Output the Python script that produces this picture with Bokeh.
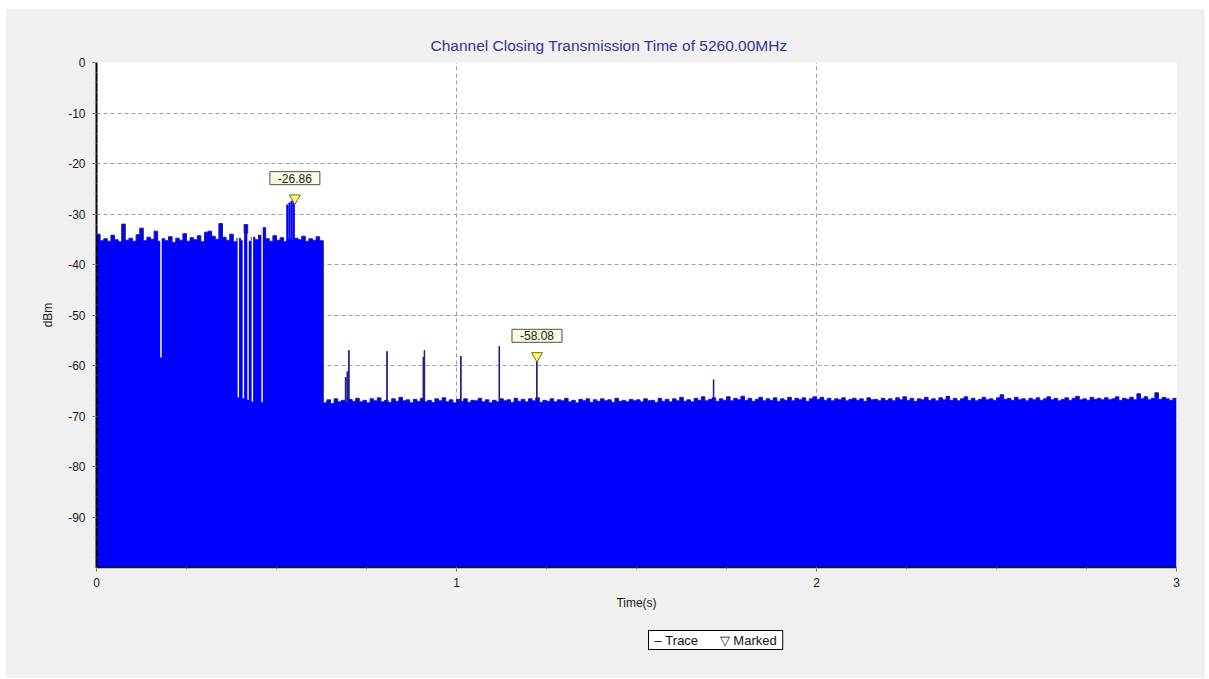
from bokeh.plotting import figure
from bokeh.models import Range1d, FixedTicker, Label, Title
from bokeh.embed import file_html
from bokeh.resources import INLINE

# ---------------- data ----------------
title_text = "Channel Closing Transmission Time of 5260.00MHz"
x_label = "Time(s)"
y_label = "dBm"
x_ticks = [0, 1, 2, 3]
y_ticks = [-90, -80, -70, -60, -50, -40, -30, -20, -10, 0]

bin_width = 0.01  # seconds per trace sample
# channel busy part (0.00 - 0.62 s)
trace_busy = [
    -34.0, -35.3, -34.9, -35.4, -34.2, -35.1, -35.5, -32.0, -35.2, -34.8,
    -35.4, -34.1, -32.8, -35.3, -34.6, -35.0, -33.4, -35.4, -34.9, -35.3,
    -34.5, -35.6, -34.8, -35.2, -33.9, -35.4, -34.7, -35.1, -34.3, -35.5,
    -33.6, -33.4, -34.4, -35.0, -31.9, -34.6, -35.2, -34.0, -35.5, -34.8,
    -35.3, -32.1, -35.4, -34.6, -35.1, -34.2, -32.7, -34.9, -35.4, -34.3,
    -35.2, -34.7, -35.5, -35.0, -35.3, -34.8, -35.1, -34.4, -35.4, -34.9,
    -35.2, -34.5, -35.3,
]
# channel closed part (0.63 - 2.99 s)
trace_idle = [
    -67.4, -66.8, -67.5, -66.6, -67.2, -66.9, -67.3,
    -66.7, -67.1, -66.5, -67.2, -66.9, -67.4, -66.6, -67.0, -66.4, -67.2,
    -66.9, -67.3, -66.6, -67.1, -66.3, -67.0, -66.8, -67.4, -66.7, -67.1,
    -66.5, -67.2, -66.9, -67.3, -66.6, -67.0, -66.4, -67.2, -66.8, -67.4,
    -66.7, -67.1, -66.6, -67.3, -66.9, -67.0, -66.5, -67.2, -66.8, -67.4,
    -66.9, -67.2, -66.6, -67.0, -66.8, -67.3, -66.5, -67.1, -66.7, -67.2,
    -66.6, -67.0, -66.4, -67.3, -66.9, -67.1, -66.6, -67.2, -66.8, -67.0,
    -66.5, -67.2, -66.9, -67.4, -66.7, -67.0, -66.6, -67.3, -66.8, -67.1,
    -66.6, -67.0, -66.8, -67.3, -66.5, -67.1, -66.9, -67.2, -66.7, -67.0,
    -66.8, -67.2, -66.6, -67.0, -66.9, -67.3, -66.5, -67.1, -66.7, -67.2,
    -66.6, -67.0, -66.3, -67.1, -66.8, -67.2, -66.5, -66.9, -66.2, -67.0,
    -66.7, -66.4, -67.1, -66.6, -66.9, -66.2, -67.0, -66.5, -66.8, -66.1,
    -66.9, -66.5, -67.1, -66.7, -66.3, -67.0, -66.6, -66.9, -66.4, -67.1,
    -66.6, -66.9, -66.3, -67.0, -66.5, -66.8, -66.4, -67.1, -66.6, -66.2,
    -66.7, -66.3, -66.9, -66.5, -67.0, -66.6, -66.8, -66.4, -67.0, -66.7,
    -66.5, -66.9, -66.6, -67.1, -66.4, -66.8, -66.7, -67.0, -66.5, -66.9,
    -66.6, -67.0, -66.4, -66.8, -66.2, -66.9, -66.5, -67.1, -66.6, -66.8,
    -66.3, -66.9, -66.6, -67.0, -66.4, -66.8, -66.1, -66.9, -66.5, -67.0,
    -66.6, -66.2, -66.9, -66.5, -67.0, -66.7, -66.3, -66.8, -66.6, -66.9,
    -66.4, -65.8, -66.7, -66.5, -66.9, -66.3, -66.8, -66.6, -67.0, -66.5,
    -66.8, -66.4, -66.9, -66.6, -66.2, -66.8, -66.5, -67.0, -66.7, -66.4,
    -66.9, -66.5, -66.1, -66.8, -66.6, -66.9, -66.3, -66.7, -66.5, -66.8,
    -66.4, -66.8, -66.6, -66.2, -66.9, -66.5, -66.7, -66.3, -66.8, -65.6,
    -66.6, -66.2, -66.8, -66.5, -65.4, -66.7, -66.3, -66.6, -66.9, -66.5,
]
# short bursts above the trace floor: time (s), level (dBm), duration (s)
burst_t = [0.530, 0.536, 0.542, 0.548, 0.692, 0.697, 0.701, 0.807, 0.908, 0.911, 1.012, 1.119, 1.223, 1.714]
burst_v = [-28.1, -27.7, -27.4, -26.86, -62.3, -61.2, -57.0, -57.2, -58.3, -57.0, -58.1, -56.2, -58.08, -62.8]
burst_w = [0.006, 0.006, 0.006, 0.006, 0.004, 0.004, 0.003, 0.003, 0.003, 0.003, 0.003, 0.003, 0.003, 0.003]
# short drop-outs inside the busy part: time (s), level (dBm)
drop_t = [0.179, 0.394, 0.408, 0.421, 0.433, 0.460]
drop_v = [-58.4, -66.3, -66.5, -66.8, -67.2, -67.3]
drop_w = 0.004
# markers
marker_t = [0.551, 1.2236]
marker_v = [-26.86, -58.08]
legend_items = ["Trace", "Marked"]

# ---------------- figure ----------------
FONT = "Liberation Sans"
BLUE = "#0000ff"
NAVY = "#23237a"

p = figure(width=1200, height=670, output_backend="svg", toolbar_location=None, tools="",
           x_range=Range1d(0, 3), y_range=Range1d(-100, 0),
           min_border_left=91, min_border_right=29, min_border_top=54, min_border_bottom=111,
           background_fill_color="white", border_fill_color="#f0f0f0", outline_line_color=None)
p.margin = (8, 0, 0, 5)

trace = trace_busy + trace_idle
lefts = [i * bin_width for i in range(len(trace))]
rights = [l + bin_width for l in lefts]

# step outline of the trace
sx, sy = [], []
for l, r, v in zip(lefts, rights, trace):
    sx += [l, r]
    sy += [v, v]
p.patch(x=sx + [rights[-1], lefts[0]], y=sy + [-100, -100], fill_color=BLUE, line_color=None)
p.line(x=sx, y=sy, line_color=NAVY, line_width=1)

# bursts
p.quad(left=[t - w / 2 for t, w in zip(burst_t, burst_w)],
       right=[t + w / 2 for t, w in zip(burst_t, burst_w)],
       top=burst_v, bottom=-100, fill_color=BLUE, line_color=None)
narrow = [i for i, w in enumerate(burst_w) if w <= 0.004]
p.segment(x0=[burst_t[i] for i in narrow], y0=[trace[int(burst_t[i] / bin_width)] for i in narrow],
          x1=[burst_t[i] for i in narrow], y1=[burst_v[i] for i in narrow],
          line_color=NAVY, line_width=1.5)

# drop-outs
drop_top = [trace[int(t / bin_width)] + 1.5 for t in drop_t]
p.quad(left=[t - drop_w / 2 for t in drop_t], right=[t + drop_w / 2 for t in drop_t],
       top=drop_top, bottom=drop_v, fill_color="white", line_color=None)

# markers
p.scatter(x=marker_t, y=marker_v, marker="inverted_triangle", size=11,
          fill_color="#ffff66", line_color="#6b6b3a", line_width=1)
for t, v in zip(marker_t, marker_v):
    p.add_layout(Label(x=t, y=v, text=f"{v:.2f}", y_offset=20, text_align="center",
                       text_baseline="middle", text_font=FONT, text_font_size="12px",
                       text_color="#222222", background_fill_color="#fafae0",
                       border_line_color="#505050", border_line_width=1,
                       padding=dict(left=8, right=8, top=2, bottom=2)))

# axes
p.xaxis.ticker = FixedTicker(ticks=x_ticks, minor_ticks=[i * 0.25 for i in range(13)])
p.yaxis.ticker = FixedTicker(ticks=y_ticks, minor_ticks=list(range(-100, 1, 2)))
p.yaxis.major_label_overrides = {t: str(t) for t in y_ticks}
p.xaxis.major_label_overrides = {t: str(t) for t in x_ticks}
for ax in (p.xaxis[0], p.yaxis[0]):
    ax.major_label_text_font = FONT
    ax.major_label_text_font_size = "12px"
    ax.major_label_text_color = "#1a1a1a"
    ax.axis_label_text_font = FONT
    ax.axis_label_text_font_size = "12px"
    ax.axis_label_text_font_style = "normal"
    ax.axis_label_text_color = "#1a1a1a"
    ax.major_tick_in = 0
    ax.major_tick_out = 4
    ax.minor_tick_in = 0
    ax.minor_tick_out = 2
    ax.major_tick_line_color = "#707070"
    ax.minor_tick_line_color = "#909090"
p.xaxis.axis_label = x_label
p.yaxis.axis_label = y_label
p.xaxis.axis_line_color = "#101040"
p.xaxis.axis_line_width = 1.5
p.yaxis.axis_line_color = "black"
p.yaxis.axis_line_width = 2
p.xaxis.major_label_standoff = 6
p.xaxis.axis_label_standoff = 6
p.yaxis.major_label_standoff = 7
p.yaxis.axis_label_standoff = 10

p.xgrid.ticker = FixedTicker(ticks=[1, 2])
p.ygrid.ticker = FixedTicker(ticks=y_ticks[:-1])
for g in (p.xgrid[0], p.ygrid[0]):
    g.grid_line_color = "#a0a0a0"
    g.grid_line_dash = "4 3"
    g.grid_line_width = 1

# title
p.title.text = title_text
p.title.align = "left"
p.title.offset = 334
p.title.text_font = FONT
p.title.text_font_size = "15.5px"
p.title.text_font_style = "normal"
p.title.text_color = "#33339a"
p.title.standoff = 18

# legend box (below the axis)
NB = "\u00a0"
legend_text = f"\u2013{NB}{legend_items[0]}{NB * 6}\u25bd{NB}{legend_items[1]}"
p.add_layout(Title(text=legend_text, align="left", offset=552, text_font=FONT,
                   text_font_size="13px", text_font_style="normal", text_color="#111111",
                   background_fill_color="white", border_line_color="black", border_line_width=1,
                   padding=dict(left=6, right=6, top=2, bottom=2), standoff=32), "below")

open("out.html", "w").write(file_html(p, INLINE))
